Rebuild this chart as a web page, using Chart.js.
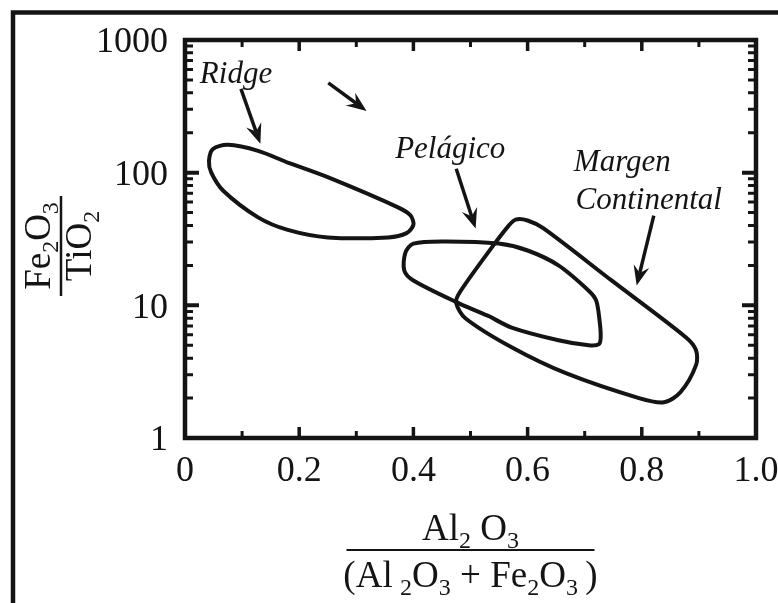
<!DOCTYPE html>
<html>
<head>
<meta charset="utf-8">
<script src="https://cdn.jsdelivr.net/npm/chart.js@4.4.1/dist/chart.umd.min.js"></script>
<style>
  html, body { margin: 0; padding: 0; background: #fff; }
  canvas { display: block; }
</style>
</head>
<body>
<canvas id="c" width="778" height="603"></canvas>
<script>
const ridgeX = [0.18, 0.251, 0.374, 0.395, 0.40, 0.388, 0.356, 0.25, 0.18, 0.128, 0.067, 0.046, 0.042, 0.049, 0.075, 0.128, 0.18];
const ridgeY = [119, 92, 54.5, 47.5, 40.5, 35, 32.5, 32.5, 37, 46, 73, 100, 123, 151, 162, 146, 119];

const pelagicoX = [0.532, 0.572, 0.654, 0.707, 0.725, 0.728, 0.726, 0.72, 0.707, 0.654, 0.60, 0.549, 0.456, 0.40, 0.386, 0.384, 0.40, 0.479, 0.532];
const pelagicoY = [8.3, 6.8, 5.46, 5.0, 5.1, 5.8, 7.7, 10.9, 12.9, 20, 25.9, 29.2, 30.3, 29.2, 25, 18.3, 15.4, 10.4, 8.3];

const margenX = [0.747, 0.877, 0.895, 0.895, 0.868, 0.839, 0.795, 0.667, 0.572, 0.491, 0.475, 0.481, 0.540, 0.567, 0.579, 0.60, 0.628, 0.747];
const margenY = [15.4, 5.75, 4.59, 3.54, 2.22, 1.86, 2.0, 3.08, 4.83, 8.0, 10.4, 12.5, 28.3, 39.9, 44.3, 43.6, 38, 15.4];

// ejes
const xTickValues = [0, 0.2, 0.4, 0.6, 0.8, 1.0];
const xTickLabels = ['0', '0.2', '0.4', '0.6', '0.8', '1.0'];
const xMinorTicks = [0.1, 0.3, 0.5, 0.7, 0.9];
const yTickValues = [1, 10, 100, 1000];
const yTickLabels = ['1', '10', '100', '1000'];
const yMinorTicks = [2, 3, 4, 5, 6, 7, 8, 9, 20, 30, 40, 50, 60, 70, 80, 90, 200, 300, 400, 500, 600, 700, 800, 900];

// flechas y etiquetas
const arrowX0 = [0.098, 0.251, 0.475, 0.821];
const arrowY0 = [428, 475, 107, 47.5];
const arrowX1 = [0.132, 0.318, 0.509, 0.791];
const arrowY1 = [165, 292, 37.9, 14.1];
const labelText = ['Ridge', 'Pelágico', 'Margen', 'Continental'];
const labelX = [0.026, 0.368, 0.681, 0.684];
const labelY = [475, 130, 103.5, 53.6];

const serif = '"Liberation Serif", "Times New Roman", serif';
const ink = '#141414';

const toPoints = (xs, ys) => xs.map((x, i) => ({ x: x, y: ys[i] }));
const field = (label, xs, ys) => ({
    label: label,
    data: toPoints(xs, ys),
    showLine: true,
    borderColor: ink,
    borderWidth: 4,
    pointRadius: 0,
    tension: 0.3,
    fill: false
});

// texto con subíndices, centrado en cx
function richText(ctx, pieces, cx, base, size) {
    const subSize = Math.round(size * 0.66);
    let w = 0;
    pieces.forEach(p => {
        ctx.font = (p.sub ? subSize : size) + 'px ' + serif;
        p.w = ctx.measureText(p.t).width;
        w += p.w;
    });
    let x = cx - w / 2;
    ctx.textAlign = 'left';
    ctx.textBaseline = 'alphabetic';
    pieces.forEach(p => {
        ctx.font = (p.sub ? subSize : size) + 'px ' + serif;
        ctx.fillText(p.t, x, base + (p.sub ? 8 : 0));
        x += p.w;
    });
}

function arrow(ctx, x0, y0, x1, y1) {
    const ang = Math.atan2(y1 - y0, x1 - x0);
    const c = Math.cos(ang), s = Math.sin(ang);
    const L = 20, W = 8, N = 13;
    ctx.beginPath();
    ctx.moveTo(x0, y0);
    ctx.lineTo(x1 - N * c, y1 - N * s);
    ctx.lineWidth = 3.5;
    ctx.stroke();
    ctx.beginPath();
    ctx.moveTo(x1, y1);
    ctx.lineTo(x1 - L * c + W * s, y1 - L * s - W * c);
    ctx.lineTo(x1 - N * c, y1 - N * s);
    ctx.lineTo(x1 - L * c - W * s, y1 - L * s + W * c);
    ctx.closePath();
    ctx.fill();
}

const decor = {
    id: 'decor',
    afterDatasetsDraw(chart) {
        const ctx = chart.ctx;
        const a = chart.chartArea;
        const xs = chart.scales.x, ys = chart.scales.y;
        ctx.save();
        ctx.strokeStyle = ink;
        ctx.fillStyle = ink;

        // marco del gráfico
        ctx.lineWidth = 4.5;
        ctx.strokeRect(a.left, a.top, a.right - a.left, a.bottom - a.top);

        // marcas hacia dentro, en los cuatro lados
        const tickX = (v, len, w) => {
            const p = xs.getPixelForValue(v);
            ctx.lineWidth = w;
            ctx.beginPath();
            ctx.moveTo(p, a.bottom); ctx.lineTo(p, a.bottom - len);
            ctx.moveTo(p, a.top); ctx.lineTo(p, a.top + len);
            ctx.stroke();
        };
        const tickY = (v, len, w) => {
            const p = ys.getPixelForValue(v);
            ctx.lineWidth = w;
            ctx.beginPath();
            ctx.moveTo(a.left, p); ctx.lineTo(a.left + len, p);
            ctx.moveTo(a.right, p); ctx.lineTo(a.right - len, p);
            ctx.stroke();
        };
        xTickValues.slice(1, -1).forEach(v => tickX(v, 11, 3.5));
        xMinorTicks.forEach(v => tickX(v, 7, 3));
        yTickValues.slice(1, -1).forEach(v => tickY(v, 14, 4));
        yMinorTicks.forEach(v => tickY(v, 8, 3));

        // flechas
        arrowX0.forEach((x, i) => {
            arrow(ctx,
                xs.getPixelForValue(x), ys.getPixelForValue(arrowY0[i]),
                xs.getPixelForValue(arrowX1[i]), ys.getPixelForValue(arrowY1[i]));
        });

        // etiquetas de los campos
        ctx.font = 'italic 31px ' + serif;
        ctx.textAlign = 'left';
        ctx.textBaseline = 'alphabetic';
        labelText.forEach((t, i) => {
            ctx.fillText(t, xs.getPixelForValue(labelX[i]), ys.getPixelForValue(labelY[i]));
        });

        // título eje x
        const cx = (a.left + a.right) / 2;
        richText(ctx, [{ t: 'Al' }, { t: '2', sub: true }, { t: ' O' }, { t: '3', sub: true }], cx, 540, 37);
        ctx.lineWidth = 2;
        ctx.beginPath(); ctx.moveTo(cx - 124, 550); ctx.lineTo(cx + 124, 550); ctx.stroke();
        richText(ctx, [{ t: '(Al\u2009' }, { t: '2', sub: true }, { t: 'O' }, { t: '3', sub: true }, { t: ' + Fe' },
            { t: '2', sub: true }, { t: 'O' }, { t: '3', sub: true }, { t: '\u2009)' }], cx, 587, 37);

        // título eje y
        ctx.save();
        ctx.translate(61, 246);
        ctx.rotate(-Math.PI / 2);
        richText(ctx, [{ t: 'Fe' }, { t: '2', sub: true }, { t: 'O' }, { t: '3', sub: true }], 0, -11, 37);
        ctx.lineWidth = 2.5;
        ctx.beginPath(); ctx.moveTo(-50, 0); ctx.lineTo(50, 0); ctx.stroke();
        richText(ctx, [{ t: 'TiO' }, { t: '2', sub: true }], 0, 30, 37);
        ctx.restore();

        // recuadro exterior de la figura
        ctx.lineWidth = 4.5;
        ctx.beginPath();
        ctx.moveTo(13, chart.height); ctx.lineTo(13, 12.5); ctx.lineTo(chart.width, 12.5);
        ctx.stroke();
        ctx.restore();
    }
};

new Chart(document.getElementById('c'), {
    type: 'scatter',
    data: {
        datasets: [
            field('Ridge', ridgeX, ridgeY),
            field('Pelágico', pelagicoX, pelagicoY),
            field('Margen Continental', margenX, margenY)
        ]
    },
    options: {
        responsive: false,
        animation: false,
        layout: { padding: { top: 40, right: 22, left: 0, bottom: 0 } },
        plugins: { legend: { display: false }, tooltip: { enabled: false } },
        scales: {
            x: {
                type: 'linear', min: 0, max: 1,
                grid: { display: false, drawTicks: false },
                border: { display: false },
                afterBuildTicks: s => { s.ticks = xTickValues.map(v => ({ value: v })); },
                afterFit: s => { s.height = 165; s.paddingLeft = 0; s.paddingRight = 0; },
                ticks: {
                    autoSkip: false, maxRotation: 0, padding: 12, color: ink,
                    font: { family: serif, size: 36 },
                    callback: (v, i) => xTickLabels[i]
                }
            },
            y: {
                type: 'logarithmic', min: 1, max: 1000,
                grid: { display: false, drawTicks: false },
                border: { display: false },
                afterBuildTicks: s => { s.ticks = yTickValues.map(v => ({ value: v })); },
                afterFit: s => { s.width = 185; s.paddingTop = 0; s.paddingBottom = 0; },
                ticks: {
                    autoSkip: false, padding: 17, labelOffset: 3, color: ink,
                    font: { family: serif, size: 36 },
                    callback: (v, i) => yTickLabels[i]
                }
            }
        }
    },
    plugins: [decor]
});
</script>
</body>
</html>
